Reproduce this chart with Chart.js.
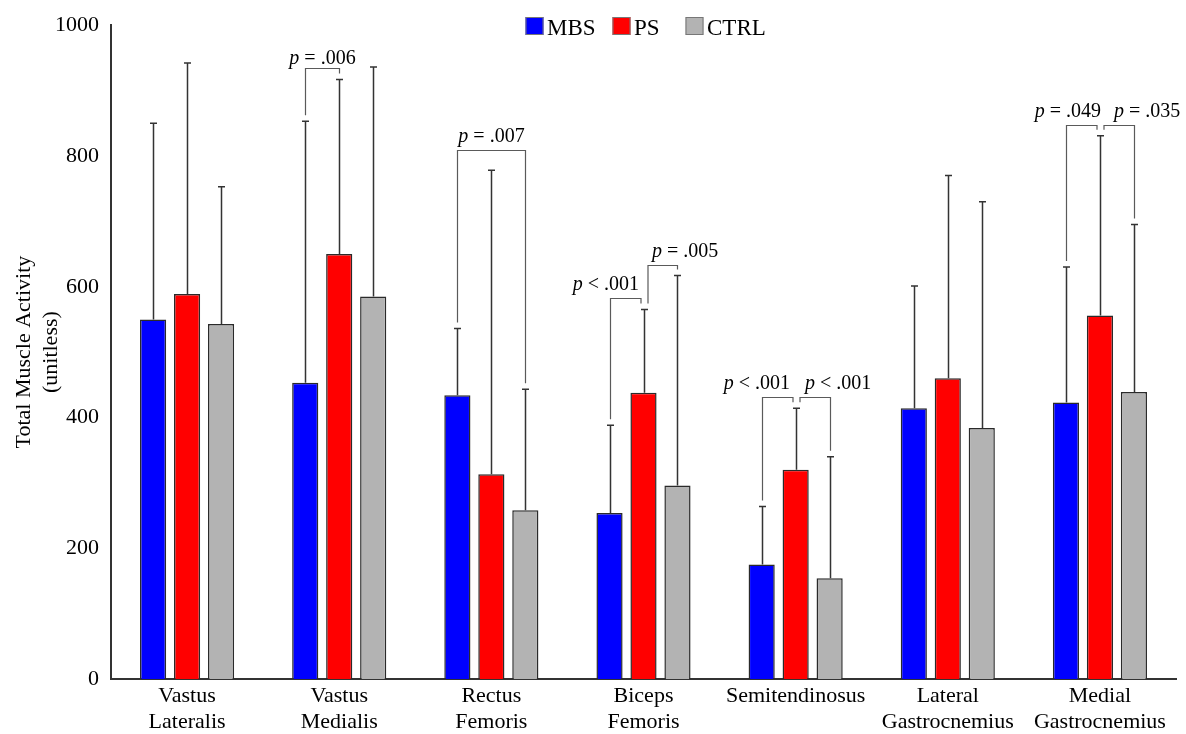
<!DOCTYPE html>
<html><head><meta charset="utf-8">
<script src="https://cdn.jsdelivr.net/npm/chart.js@4.4.0/dist/chart.umd.min.js"></script>
<style>html,body{margin:0;padding:0;background:#fff;} canvas{display:block;}</style>
</head><body>
<canvas id="c" width="1186" height="734"></canvas>
<script>
const categories = [["Vastus","Lateralis"],["Vastus","Medialis"],["Rectus","Femoris"],["Biceps","Femoris"],["Semitendinosus"],["Lateral","Gastrocnemius"],["Medial","Gastrocnemius"]];
const seriesNames = ["MBS","PS","CTRL"];
const mbsMean = [550,453,434,254,175,414,423];
const psMean = [589,650,313,438,320,460,556];
const ctrlMean = [543,585,258,296,154,384,439];
const mbsSD = [300,400,102,134,89,187,207];
const psSD = [353,267,465,127,94,310,275];
const ctrlSD = [210,351,185,321,186,346,256];
const yTicks = [0,200,400,600,800,1000];
const yTitle = ["Total Muscle Activity","(unitless)"];
// significance brackets: category, series a, series b, bracket height (value units), label
const brackets = [
  {cat:1,a:0,b:1,h:934,label:"p = .006"},
  {cat:2,a:0,b:2,h:809,label:"p = .007"},
  {cat:3,a:0,b:1,h:582,label:"p < .001"},
  {cat:3,a:1,b:2,h:633,label:"p = .005"},
  {cat:4,a:0,b:1,h:431,label:"p < .001"},
  {cat:4,a:1,b:2,h:431,label:"p < .001"},
  {cat:6,a:0,b:1,h:848,label:"p = .049"},
  {cat:6,a:1,b:2,h:848,label:"p = .035"}
];

const FONT = "'Liberation Serif','Times New Roman',serif";
const colors = ["#0000FF","#FF0000","#B3B3B3"];
const means = [mbsMean, psMean, ctrlMean];
const sds = [mbsSD, psSD, ctrlSD];
const labelLayout = [
  {align:'center',dx:0,dy:5},
  {align:'center',dx:0,dy:9},
  {align:'right',dx:-5.5,dy:9},
  {align:'left',dx:7.5,dy:9},
  {align:'right',dx:-6.5,dy:9},
  {align:'left',dx:8.5,dy:9},
  {align:'right',dx:0.5,dy:9},
  {align:'left',dx:13.5,dy:9}
];

const errorBarPlugin = {
  id:'errbars',
  afterDatasetsDraw(chart){
    const ctx = chart.ctx, ys = chart.scales.y;
    ctx.save();
    ctx.strokeStyle = '#333'; ctx.lineWidth = 1.5;
    sds.forEach((sd, di) => {
      const meta = chart.getDatasetMeta(di);
      meta.data.forEach((el, i) => {
        const x = Math.round(el.x) + 0.5;
        const top = ys.getPixelForValue(means[di][i] + sd[i]);
        ctx.beginPath();
        ctx.moveTo(x, el.y); ctx.lineTo(x, top);
        ctx.moveTo(x - 3.5, top); ctx.lineTo(x + 3.5, top);
        ctx.stroke();
      });
    });
    // brackets
    ctx.strokeStyle = '#5a5a5a'; ctx.lineWidth = 1.2;
    brackets.forEach((b, k) => {
      const shared = (bar) => brackets.some(o => o !== b && o.cat === b.cat && (o.a === bar || o.b === bar));
      const ea = chart.getDatasetMeta(b.a).data[b.cat];
      const eb = chart.getDatasetMeta(b.b).data[b.cat];
      let xa = Math.round(ea.x) + 0.5, xb = Math.round(eb.x) + 0.5;
      const xaLeg = shared(b.a) ? xa + 3.5 : xa;
      const xbLeg = shared(b.b) ? xb - 3.5 : xb;
      const yTop = Math.round(ys.getPixelForValue(b.h)) + 0.5;
      const ya = ys.getPixelForValue(means[b.a][b.cat] + sds[b.a][b.cat]) - 6;
      const yb = ys.getPixelForValue(means[b.b][b.cat] + sds[b.b][b.cat]) - 6;
      ctx.beginPath();
      ctx.moveTo(xaLeg, ya); ctx.lineTo(xaLeg, yTop); ctx.lineTo(xbLeg, yTop); ctx.lineTo(xbLeg, yb);
      ctx.stroke();
      // label
      const L = labelLayout[k];
      const first = b.label.charAt(0), rest = b.label.slice(1);
      ctx.font = "italic 20px " + FONT;
      const w1 = ctx.measureText(first).width;
      ctx.font = "20px " + FONT;
      const w2 = ctx.measureText(rest).width;
      const total = w1 + w2;
      let anchor;
      if (L.align === 'right') anchor = xb + L.dx - total;
      else if (L.align === 'left') anchor = xa + L.dx;
      else anchor = (xa + xb) / 2 - total / 2 + L.dx;
      const by = yTop - L.dy;
      ctx.fillStyle = '#000'; ctx.textAlign = 'left'; ctx.textBaseline = 'alphabetic';
      ctx.font = "italic 20px " + FONT;
      ctx.fillText(first, anchor, by);
      ctx.font = "20px " + FONT;
      ctx.fillText(rest, anchor + w1, by);
    });
    ctx.restore();
  }
};

const legendPlugin = {
  id:'customLegend',
  afterDraw(chart){
    const ctx = chart.ctx, ca = chart.chartArea;
    const start = (ca.left + ca.right) / 2 - 118;
    const offs = [0, 87, 160];
    ctx.save();
    ctx.font = "23px " + FONT;
    ctx.textBaseline = 'alphabetic'; ctx.textAlign = 'left';
    seriesNames.forEach((n, i) => {
      const x = start + offs[i];
      ctx.fillStyle = colors[i];
      ctx.fillRect(x, 17, 18, 18);
      ctx.strokeStyle = '#777'; ctx.lineWidth = 1;
      ctx.strokeRect(x + 0.5, 17.5, 17, 17);
      ctx.fillStyle = '#000';
      ctx.fillText(n, x + 21.5, 34.5);
    });
    ctx.restore();
  }
};

Chart.defaults.font.family = FONT;
Chart.defaults.color = '#000';

new Chart(document.getElementById('c'), {
  type:'bar',
  data:{
    labels: categories,
    datasets: seriesNames.map((n, i) => ({
      label: n,
      data: means[i],
      backgroundColor: colors[i],
      borderColor: '#2a2a2a',
      borderWidth: 1.5,
      categoryPercentage: 0.67,
      barPercentage: 0.77
    }))
  },
  options:{
    responsive:false,
    devicePixelRatio:1,
    animation:false,
    layout:{padding:{top:23,right:10,left:0,bottom:0}},
    plugins:{legend:{display:false},tooltip:{enabled:false}},
    scales:{
      x:{
        grid:{display:false,drawTicks:false},
        border:{display:true,color:'#333',width:2},
        ticks:{font:{size:22,lineHeight:1.15},color:'#000',padding:5,autoSkip:false,maxRotation:0,minRotation:0},
        afterFit(s){ s.height = 55; }
      },
      y:{
        min:0,max:1000,
        grid:{display:false,drawTicks:false},
        border:{display:true,color:'#333',width:2},
        ticks:{font:{size:22},color:'#000',padding:12,callback:v=>String(v)},
        afterBuildTicks(s){ s.ticks = yTicks.map(v=>({value:v})); },
        title:{display:true,text:yTitle,font:{size:22,lineHeight:1.25},color:'#000',padding:{top:10,bottom:0}},
        afterFit(s){ s.width = 111; }
      }
    }
  },
  plugins:[errorBarPlugin, legendPlugin]
});
</script>
</body></html>
